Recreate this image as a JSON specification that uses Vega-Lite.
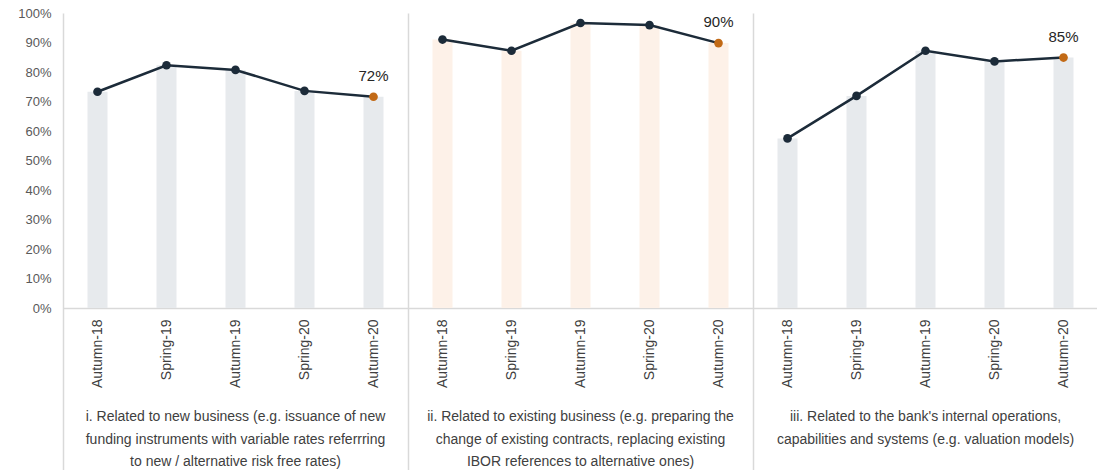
{
  "$schema": "https://vega.github.io/schema/vega-lite/v6.json",
  "padding": {"left": 17, "top": 7, "right": 0, "bottom": 0},
  "autosize": {"type": "pad"},
  "bounds": "flush",
  "background": "white",
  "config": {
    "view": {"stroke": null},
    "font": "Liberation Sans",
    "axis": {"labelFont": "Liberation Sans", "labelColor": "#595959"}
  },
  "data": {
    "values": [
      {"panel": "i. Related to new business (e.g. issuance of new\nfunding instruments with variable rates referrring\nto new / alternative risk free rates)", "period": "Autumn-18", "value": 0.733, "last": false},
      {"panel": "i. Related to new business (e.g. issuance of new\nfunding instruments with variable rates referrring\nto new / alternative risk free rates)", "period": "Spring-19", "value": 0.823, "last": false},
      {"panel": "i. Related to new business (e.g. issuance of new\nfunding instruments with variable rates referrring\nto new / alternative risk free rates)", "period": "Autumn-19", "value": 0.807, "last": false},
      {"panel": "i. Related to new business (e.g. issuance of new\nfunding instruments with variable rates referrring\nto new / alternative risk free rates)", "period": "Spring-20", "value": 0.736, "last": false},
      {"panel": "i. Related to new business (e.g. issuance of new\nfunding instruments with variable rates referrring\nto new / alternative risk free rates)", "period": "Autumn-20", "value": 0.716, "last": true},
      {"panel": "ii. Related to existing business (e.g. preparing the\nchange of existing contracts, replacing existing\nIBOR references to alternative ones)", "period": "Autumn-18", "value": 0.91, "last": false},
      {"panel": "ii. Related to existing business (e.g. preparing the\nchange of existing contracts, replacing existing\nIBOR references to alternative ones)", "period": "Spring-19", "value": 0.872, "last": false},
      {"panel": "ii. Related to existing business (e.g. preparing the\nchange of existing contracts, replacing existing\nIBOR references to alternative ones)", "period": "Autumn-19", "value": 0.966, "last": false},
      {"panel": "ii. Related to existing business (e.g. preparing the\nchange of existing contracts, replacing existing\nIBOR references to alternative ones)", "period": "Spring-20", "value": 0.959, "last": false},
      {"panel": "ii. Related to existing business (e.g. preparing the\nchange of existing contracts, replacing existing\nIBOR references to alternative ones)", "period": "Autumn-20", "value": 0.898, "last": true},
      {"panel": "iii. Related to the bank's internal operations,\ncapabilities and systems (e.g. valuation models)", "period": "Autumn-18", "value": 0.575, "last": false},
      {"panel": "iii. Related to the bank's internal operations,\ncapabilities and systems (e.g. valuation models)", "period": "Spring-19", "value": 0.719, "last": false},
      {"panel": "iii. Related to the bank's internal operations,\ncapabilities and systems (e.g. valuation models)", "period": "Autumn-19", "value": 0.872, "last": false},
      {"panel": "iii. Related to the bank's internal operations,\ncapabilities and systems (e.g. valuation models)", "period": "Spring-20", "value": 0.836, "last": false},
      {"panel": "iii. Related to the bank's internal operations,\ncapabilities and systems (e.g. valuation models)", "period": "Autumn-20", "value": 0.849, "last": true}
    ]
  },
  "facet": {
    "column": {
      "field": "panel",
      "type": "nominal",
      "title": null,
      "header": {
        "labelOrient": "bottom",
        "labelExpr": "split(datum.value, '\\n')",
        "labelFont": "Liberation Sans",
        "labelFontSize": 14,
        "labelColor": "#404040",
        "labelLineHeight": 22.5,
        "labelPadding": 102,
        "labelBaseline": "top"
      }
    }
  },
  "spacing": 0,
  "resolve": {"scale": {"x": "independent"}},
  "spec": {
    "width": 345,
    "height": 295,
    "encoding": {
      "y": {
        "field": "value", "type": "quantitative",
        "scale": {"domain": [0, 1]},
        "axis": {"title": null, "format": ".0%", "values": [0, 0.1, 0.2, 0.3, 0.4, 0.5, 0.6, 0.7, 0.8, 0.9, 1], "labelOverlap": false, "grid": false, "ticks": false, "domain": false, "labelFontSize": 13, "labelPadding": 12}
      }
    },
    "layer": [
      {
        "mark": {"type": "bar", "width": {"band": 0.29}},
        "encoding": {
          "x": {
            "field": "period", "type": "nominal",
            "sort": ["Autumn-18", "Spring-19", "Autumn-19", "Spring-20", "Autumn-20"],
            "scale": {"paddingInner": 0, "paddingOuter": 0},
            "axis": {"orient": "bottom", "title": null, "labelAngle": -90, "labelFontSize": 14, "labelColor": "#404040", "ticks": false, "labelPadding": 11, "domainColor": "#d9d9d9", "domainWidth": 1.5}
          },
          "color": {
            "field": "panel", "type": "nominal",
            "scale": {"range": ["#E7EAED", "#FDF1E8", "#E7EAED"]},
            "legend": null
          }
        }
      },
      {
        "mark": {"type": "line", "color": "#1C2B39", "strokeWidth": 2.5},
        "encoding": {
          "x": {
            "field": "period", "type": "nominal",
            "sort": ["Autumn-18", "Spring-19", "Autumn-19", "Spring-20", "Autumn-20"],
            "axis": {"orient": "top", "title": null, "values": ["Autumn-18"], "bandPosition": 0, "labels": false, "domain": false, "grid": false, "ticks": true, "tickSize": -460, "tickColor": "#d9d9d9", "tickWidth": 1.5}
          }
        }
      },
      {
        "mark": {"type": "point", "filled": true, "size": 75, "opacity": 1},
        "encoding": {
          "x": {"field": "period", "type": "nominal", "sort": ["Autumn-18", "Spring-19", "Autumn-19", "Spring-20", "Autumn-20"], "axis": null},
          "fill": {"condition": {"test": "datum.last", "value": "#C26A16"}, "value": "#1C2B39"}
        }
      },
      {
        "transform": [{"filter": "datum.last"}],
        "mark": {"type": "text", "dy": -21, "fontSize": 15, "color": "#262626"},
        "encoding": {
          "x": {"field": "period", "type": "nominal", "sort": ["Autumn-18", "Spring-19", "Autumn-19", "Spring-20", "Autumn-20"], "axis": null},
          "text": {"field": "value", "type": "quantitative", "format": ".0%"}
        }
      }
    ]
  }
}
